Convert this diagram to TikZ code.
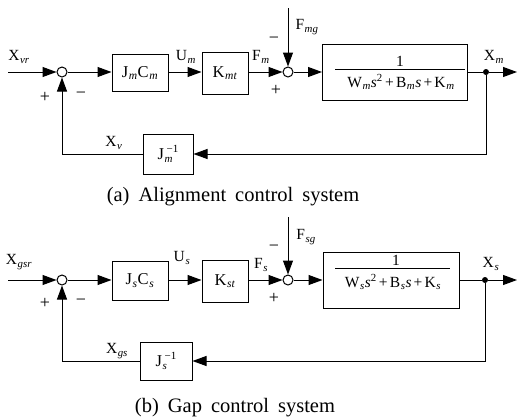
\documentclass[tikz,border=0pt]{standalone}
\usepackage{fontspec}
\setmainfont{Liberation Serif}
\usetikzlibrary{arrows.meta}
\newcommand\lsub[1]{\kern0.6pt\textsubscript{\itshape #1}}
\newcommand\lsubsup[2]{\kern0.6pt\raisebox{-3.5pt}{\fontsize{11}{12}\selectfont\shortstack[l]{\kern2pt#2\\[2pt]\itshape #1}}}
\newcommand\capfont{\fontsize{20.5}{24}\selectfont\spaceskip=9pt\relax}
\newcommand\fsp{\hspace{2.2pt}}
\tikzset{
  blk/.style={draw, line width=1pt, inner sep=0pt, font=\fontsize{16.5}{19}\selectfont},
  sumc/.style={draw, circle, minimum size=10pt, inner sep=0pt, line width=1pt},
  dotn/.style={fill, circle, minimum size=6pt, inner sep=0pt},
  lbl/.style={inner sep=0pt, font=\fontsize{15.5}{18}\selectfont},
  sgn/.style={inner sep=0pt, font=\fontsize{18}{20}\selectfont},
  den/.style={inner sep=0pt, font=\fontsize{15.5}{18}\selectfont},
  captxt/.style={inner sep=0pt, anchor=base, font=\capfont},
  sig/.style={line width=1pt, -{Triangle[length=14pt,width=10pt]}},
  wire/.style={line width=1pt},
}
\begin{document}
\begin{tikzpicture}[x=1pt,y=-1pt]
\useasboundingbox (0,0) rectangle (517,418);
% ---------- (a) ----------
\coordinate (in1) at (8,72);
\coordinate (out1) at (517,72);
\coordinate (ftop1) at (288,8);
\node[sumc] (s1) at (62,72) {};
\node[blk, minimum width=56pt, minimum height=37pt] (jc1) at (140,73) {J\lsub{m}C\lsub{m}};
\node[blk, minimum width=46pt, minimum height=42pt] (k1) at (225,73) {K\lsub{mt}};
\node[sumc] (s2) at (288,72) {};
\node[blk, minimum width=145pt, minimum height=56pt] (g1) at (395,72) {};
\node[dotn] (o1) at (486,72) {};
\node[blk, minimum width=50pt, minimum height=40pt] (ji1) at (168,154) {J\lsubsup{m}{−1}};
\draw[sig] (in1) -- (s1);
\draw[sig] (s1) -- (jc1.west |- s1);
\draw[sig] (jc1.east |- s1) -- (k1.west |- s1);
\draw[sig] (k1.east |- s1) -- (s2);
\draw[sig] (ftop1) -- (s2);
\draw[sig] (s2) -- (g1);
\draw[wire] (g1) -- (o1);
\draw[sig] (o1) -- (out1);
\draw[sig] (o1) |- (ji1);
\draw[sig] (ji1) -| (s1);
\node[den] (n1) at (400,61) {1};
\node[den] (d1) at (401,82) {W\lsub{m}\textit{s}\textsuperscript{2}\fsp+\fsp B\lsub{m}\textit{s}\fsp+\fsp K\lsub{m}};
\draw[wire] (335,69) coordinate (fl1) -- (465,69);
\node[lbl] (lxvr) at (19,57) {X\lsub{vr}};
\node[lbl] (lum) at (186,57) {U\lsub{m}};
\node[lbl] (lfm) at (261,57) {F\lsub{m}};
\node[lbl] (lfmg) at (307,27) {F\lsub{mg}};
\node[sgn] (lmi2) at (274,40) {−};
\node[sgn] (lpl2) at (276,90) {+};
\node[lbl] (lxm) at (494,57) {X\lsub{m}};
\node[lbl] (lxv) at (114,143) {X\lsub{v}};
\node[sgn] (lpl1) at (45,97) {+};
\node[sgn] (lmi1) at (81,95) {−};
\node[captxt] (capa) at (233,201) {(a) Alignment control system};
% ---------- (b) ----------
\coordinate (in2) at (8,280);
\coordinate (out2) at (517,280);
\coordinate (ftop2) at (288,217);
\node[sumc] (t1) at (62,280) {};
\node[blk, minimum width=56pt, minimum height=39pt] (jc2) at (140,280.5) {J\lsub{s}C\lsub{s}};
\node[blk, minimum width=46pt, minimum height=42pt] (k2) at (225,281) {K\lsub{st}};
\node[sumc] (t2) at (288,280) {};
\node[blk, minimum width=136pt, minimum height=56pt] (g2) at (391,280) {};
\node[dotn] (o2) at (485,280) {};
\node[blk, minimum width=52pt, minimum height=38pt] (ji2) at (166,361) {J\lsubsup{s}{−1}};
\draw[sig] (in2) -- (t1);
\draw[sig] (t1) -- (jc2.west |- t1);
\draw[sig] (jc2.east |- t1) -- (k2.west |- t1);
\draw[sig] (k2.east |- t1) -- (t2);
\draw[sig] (ftop2) -- (t2);
\draw[sig] (t2) -- (g2);
\draw[wire] (g2) -- (o2);
\draw[sig] (o2) -- (out2);
\draw[sig] (o2) |- (ji2);
\draw[sig] (ji2) -| (t1);
\node[den] (n2) at (396,260) {1};
\node[den] (d2) at (393,282) {W\lsub{s}\textit{s}\textsuperscript{2}\fsp+\fsp B\lsub{s}\textit{s}\fsp+\fsp K\lsub{s}};
\draw[wire] (335,268) coordinate (fl2) -- (450,268);
\node[lbl] (lxgsr) at (19,262) {X\lsub{gsr}};
\node[lbl] (lus) at (182,258) {U\lsub{s}};
\node[lbl] (lfs) at (261,265) {F\lsub{s}};
\node[lbl] (lfsg) at (306,237) {F\lsub{sg}};
\node[sgn] (lmi4) at (274,248) {−};
\node[sgn] (lpl4) at (274,298) {+};
\node[lbl] (lxs) at (491,264) {X\lsub{s}};
\node[lbl] (lxgs) at (117,351) {X\lsub{gs}};
\node[sgn] (lpl3) at (45,303) {+};
\node[sgn] (lmi3) at (81,302) {−};
\node[captxt] (capb) at (235,412) {(b) Gap control system};
\end{tikzpicture}
\end{document}
